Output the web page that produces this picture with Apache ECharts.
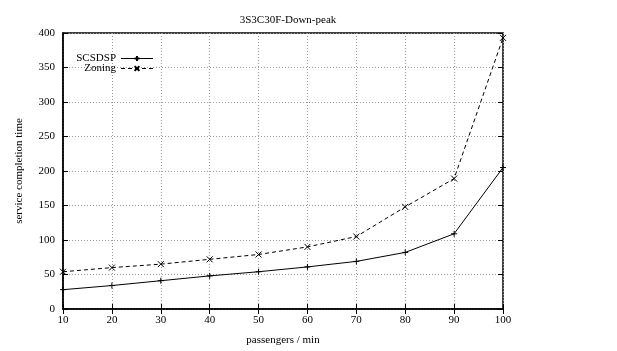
<!DOCTYPE html>
<html>
<head>
<meta charset="utf-8">
<script src="https://cdn.jsdelivr.net/npm/echarts@6/dist/echarts.min.js"></script>
<style>
  html, body { margin: 0; padding: 0; background: #fff; }
  #chart { width: 617px; height: 351px; }
</style>
</head>
<body>
<div id="chart"></div>
<script>
// passengers / min
const passengers = [10, 20, 30, 40, 50, 60, 70, 80, 90, 100];
// service completion time
const scsdsp = [28, 34, 41, 48, 54, 61, 69, 82, 109, 205];
const zoning = [54, 60, 65, 72, 79, 90, 105, 148, 189, 393];

const font = 'Liberation Serif';
const plusIcon = 'path://M0,5L10,5M5,0L5,10';
const crossIcon = 'path://M0,0L10,10M0,10L10,0';

const chart = echarts.init(document.getElementById('chart'));

// 上下、左右镜像坐标轴 (gnuplot 风格刻度)
const tickAxis = {
  axisLine: { show: false },
  axisTick: { show: true, inside: true, length: 5, lineStyle: { color: '#000' } },
  axisLabel: { show: false },
  splitLine: { show: false },
};

chart.setOption({
  animation: false,
  title: {
    text: '3S3C30F-Down-peak',
    left: 283,
    textAlign: 'center',
    top: 10,
    textStyle: { fontFamily: font, fontSize: 11, fontWeight: 'normal', color: '#000' },
  },
  legend: {
    orient: 'vertical',
    left: 67,
    top: 48,
    align: 'right',
    itemWidth: 32,
    itemHeight: 6,
    itemGap: -1,
    lineStyle: { width: 1 },
    textStyle: { fontFamily: font, fontSize: 11, lineHeight: 11, color: '#000', width: 44, align: 'right' },
    data: ['SCSDSP', 'Zoning'],
  },
  grid: {
    left: 63,
    right: 114,
    top: 33,
    bottom: 35,
    show: true,
    borderColor: '#000',
    borderWidth: 1.5,
  },
  xAxis: [
    {
      type: 'value',
      min: 10,
      max: 100,
      interval: 10,
      name: 'passengers / min',
      nameLocation: 'middle',
      nameGap: 26,
      nameTextStyle: { fontFamily: font, fontSize: 11, color: '#000' },
      axisLine: { lineStyle: { color: '#000', width: 1.5 } },
      axisTick: { inside: true, length: 5, lineStyle: { color: '#000' } },
      axisLabel: { fontFamily: font, fontSize: 11, color: '#000', margin: 6 },
      splitLine: { show: true, lineStyle: { color: '#999', type: [1, 2], width: 1 } },
    },
    Object.assign({ type: 'value', position: 'top', min: 10, max: 100, interval: 10 }, tickAxis),
  ],
  yAxis: [
    {
      type: 'value',
      min: 0,
      max: 400,
      interval: 50,
      name: 'service completion time',
      nameLocation: 'middle',
      nameGap: 38,
      nameTextStyle: { fontFamily: font, fontSize: 11, color: '#000' },
      axisLine: { lineStyle: { color: '#000', width: 1.5 } },
      axisTick: { inside: true, length: 5, lineStyle: { color: '#000' } },
      axisLabel: { fontFamily: font, fontSize: 11, color: '#000', margin: 8 },
      splitLine: { show: true, lineStyle: { color: '#999', type: [1, 2], width: 1 } },
    },
    Object.assign({ type: 'value', position: 'right', min: 0, max: 400, interval: 50 }, tickAxis),
  ],
  series: [
    {
      name: 'SCSDSP',
      type: 'line',
      data: passengers.map((x, i) => [x, scsdsp[i]]),
      symbol: plusIcon,
      symbolSize: 6,
      lineStyle: { color: '#000', width: 1 },
      itemStyle: { color: '#000', borderColor: '#000', borderWidth: 1 },
    },
    {
      name: 'Zoning',
      type: 'line',
      data: passengers.map((x, i) => [x, zoning[i]]),
      symbol: crossIcon,
      symbolSize: 6,
      lineStyle: { color: '#000', width: 1, type: [4, 3] },
      itemStyle: { color: '#000', borderColor: '#000', borderWidth: 1 },
    },
  ],
});
</script>
</body>
</html>
